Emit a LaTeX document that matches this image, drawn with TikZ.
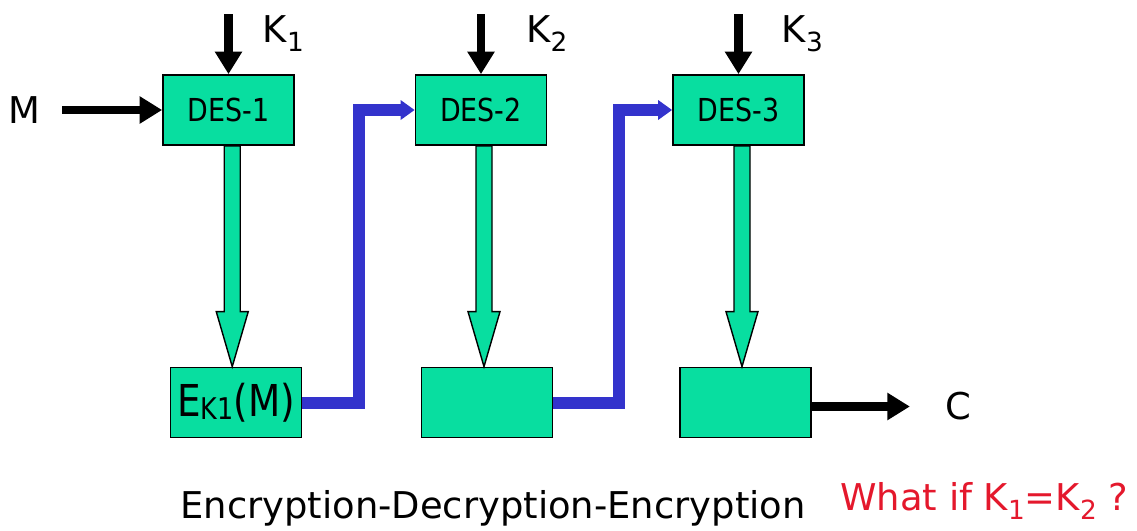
\documentclass[tikz,border=0pt]{standalone}
\usepackage{fontspec}
\setmainfont{DejaVu Sans}
\newfontfamily\narrowfont[FakeStretch=0.85]{DejaVu Sans}
\usepackage{tikz}
\usetikzlibrary{positioning}
\usetikzlibrary{calc}
\usetikzlibrary{arrows.meta}
\definecolor{desgreen}{RGB}{8,222,160}
\definecolor{desblue}{RGB}{51,51,204}
\definecolor{askred}{RGB}{228,24,44}
\tikzset{
	desbox/.style={draw=black, line width=1pt, fill=desgreen, minimum width=2.62cm, minimum height=1.4cm, inner sep=0pt},
	keyarrow/.style={black, line width=0.17cm, -{Triangle[length=0.45cm, width=0.52cm]}},
	passarrow/.style={desblue, line width=0.24cm, -{Triangle[length=0.28cm, width=0.38cm]}},
	lbl/.style={inner sep=0pt, font=\fontsize{21}{25}\selectfont}
}
\newcommand\lowsub[1]{\raisebox{-5.5pt}{\fontsize{15}{17}\selectfont #1}}
\newcommand\hollowdown[2]{
	\filldraw[draw=black, line width=0.8pt, fill=desgreen] let \p1=(#1.south), \p2=(#2.north), \p3=($(#1.south)!0.5!(#2.north)$) in
		(\x3-0.16cm, \y1) -- (\x3+0.16cm, \y1) -- (\x3+0.16cm, \y2+1.1cm) -- (\x3+0.32cm, \y2+1.1cm)
		-- (\x3, \y2) -- (\x3-0.32cm, \y2+1.1cm) -- (\x3-0.16cm, \y2+1.1cm) -- cycle;
}

\begin{document}
\begin{tikzpicture}[x=0.02cm, y=-0.02cm]
	\useasboundingbox (0,0) rectangle (1137,531);
	\node[desbox, font=\narrowfont\fontsize{18}{20}\selectfont] (des1) at (228.5,110) {DES-1};
	\node[desbox, font=\narrowfont\fontsize{18}{20}\selectfont] (des2) at (481,110) {DES-2};
	\node[desbox, font=\narrowfont\fontsize{18}{20}\selectfont] (des3) at (738.5,110) {DES-3};
	\node[desbox, font=\narrowfont\fontsize{25}{28}\selectfont] (out1) at (236,402.5) {E\raisebox{-2pt}{\fontsize{17}{19}\selectfont K1}(M)};
	\node[desbox] (out2) at (487,402.5) {};
	\node[desbox] (out3) at (745.5,402.5) {};

	\coordinate (k1) at ($(des1.north)+(0,-60)$);
	\coordinate (k2) at ($(des2.north)+(0,-60)$);
	\coordinate (k3) at ($(des3.north)+(0,-60)$);
	\draw[keyarrow] (k1) -- (des1.north);
	\draw[keyarrow] (k2) -- (des2.north);
	\draw[keyarrow] (k3) -- (des3.north);
	\node[lbl, anchor=base west] (key1) at ($(k1)+(34,28)$) {K\lowsub{1}};
	\node[lbl, anchor=base west] (key2) at ($(k2)+(45,28)$) {K\lowsub{2}};
	\node[lbl, anchor=base west] (key3) at ($(k3)+(43,28)$) {K\lowsub{3}};

	\coordinate (min) at ($(des1.west)+(-100,0)$);
	\draw[keyarrow] (min) -- (des1.west);
	\node[lbl, left=0.42cm of min] (msg) {M};

	\hollowdown{des1}{out1}
	\hollowdown{des2}{out2}
	\hollowdown{des3}{out3}

	\draw[passarrow] (out1.east) -| ($(out1.east)!0.5!(des2.west)$) |- (des2.west);
	\draw[passarrow] (out2.east) -| ($(out2.east)!0.55!(des3.west)$) |- (des3.west);

	\coordinate (cout) at ($(out3.east)+(98,4)$);
	\draw[keyarrow] (out3.east |- cout) -- (cout);
	\node[lbl, right=0.7cm of cout] (ctext) {C};

	\node[lbl, anchor=base west] (motto) at (180,518) {Encryption-Decryption-Encryption};
	\node[lbl, anchor=base west, text=askred] (query) at (840,510) {What if K\lowsub{1}=K\lowsub{2} ?};
\end{tikzpicture}
\end{document}
